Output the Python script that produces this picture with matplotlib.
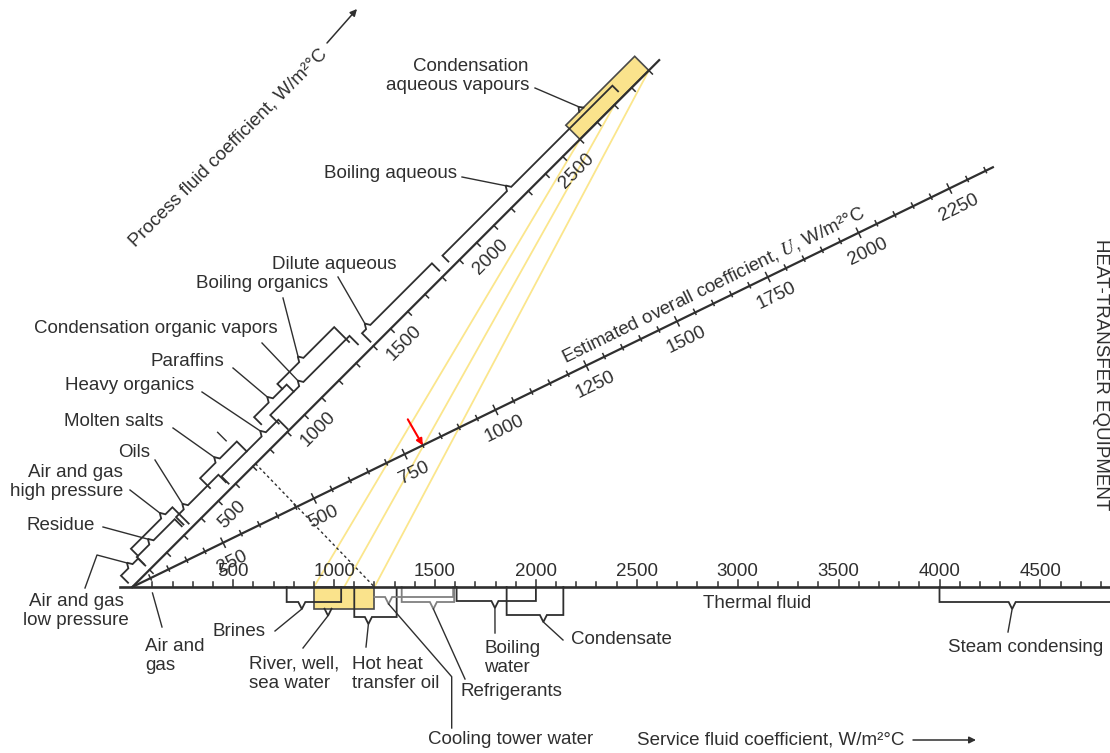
import numpy as np
import matplotlib
matplotlib.use("Agg")
import matplotlib.pyplot as plt
from matplotlib.transforms import Affine2D
from matplotlib.patches import Polygon

plt.rcParams['font.family'] = ['Liberation Sans', 'DejaVu Sans']
plt.rcParams['mathtext.fontset'] = 'stix'

# ---------------- scale values ----------------
service_ticks = np.arange(100, 4900, 100)
service_labels = [500, 1000, 1500, 2000, 2500, 3000, 3500, 4000, 4500]
process_ticks = np.arange(100, 3100, 100)
process_labels = [500, 1000, 1500, 2000, 2500]
u_ticks = np.arange(50, 2400, 50)
u_labels = [250, 500, 750, 1000, 1250, 1500, 1750, 2000, 2250]

# ---------------- process-side fluids (W/m2 C) ----------------
process_fluids = ["Air and gas\nlow pressure", "Residue", "Air and gas\nhigh pressure",
                  "Oils", "Molten salts", "Heavy organics", "Paraffins",
                  "Condensation organic vapors", "Boiling organics", "Dilute aqueous",
                  "Boiling aqueous", "Condensation\naqueous vapours"]
process_low = [0, 100, 107, 330, 513, 580, 847, 900, 1011, 1404, 1863, 2600]
process_high = [100, 320, 348, 576, 726, 910, 1036, 1360, 1341, 1810, 2850, 3000]
process_typical = [55, 185, 295, 387, 615, 825, 944, 1080, 1150, 1440, 2250, 2690]

# ---------------- service-side fluids (W/m2 C) ----------------
service_fluids = ["Brines", "River, well,\nsea water", "Hot heat\ntransfer oil",
                  "Cooling tower water", "Refrigerants", "Boiling\nwater",
                  "Condensate", "Steam condensing"]
service_low = [765, 900, 1100, 1200, 1335, 1607, 1855, 4000]
service_high = [1035, 1200, 1310, 1590, 1595, 2000, 2136, 4900]
service_typical = [840, 970, 1170, 1270, 1492, 1797, 2037, 4360]
air_gas_service = 100

# ---------------- worked examples ----------------
example_process = [2600, 2800, 3000]
example_service = [900, 1050, 1200]
dotted_process = 716
dotted_service = 1200
u_result = 800

# ---------------- geometry of the three scales ----------------
X0, Y0 = 132.3, 587.0
KS = 0.2018
KP, ANG_P = 0.2435, np.radians(45)
KU, ANG_U = 0.404, np.radians(26)
cp, sp = np.cos(ANG_P), np.sin(ANG_P)
cu, su = np.cos(ANG_U), np.sin(ANG_U)

fig = plt.figure(figsize=(11.1, 7.53), dpi=100)
ax = fig.add_axes([0, 0, 1, 1])
ax.set_xlim(0, 1110)
ax.set_ylim(753, 0)
ax.axis('off')

serv_aff = Affine2D(np.array([[KS, 0, X0], [0, 1, Y0], [0, 0, 1.0]]))
proc_aff = Affine2D(np.array([[KP * cp, -sp, X0], [-KP * sp, -cp, Y0], [0, 0, 1.0]]))
u_aff = Affine2D(np.array([[KU * cu, su, X0], [-KU * su, cu, Y0], [0, 0, 1.0]]))
serv_tr = serv_aff + ax.transData
proc_tr = proc_aff + ax.transData
u_tr = u_aff + ax.transData

INK = '#2f2f2f'
GREY = '#808080'
YELLOW_FILL = '#FAE38C'
YELLOW_LINE = '#FBE68C'
FS_LAB = 13.5
FS_NUM = 13.5
LW_BR = 1.3

# ---------------- highlighted ranges and construction lines ----------------
for p, s in zip(example_process, example_service):
    a = proc_aff.transform((p, 0))
    b = serv_aff.transform((s, 0))
    ax.plot([a[0], b[0]], [a[1], b[1]], color=YELLOW_LINE, lw=1.3, zorder=1)

a = proc_aff.transform((dotted_process, 0))
b = serv_aff.transform((dotted_service, 0))
ax.plot([a[0], b[0]], [a[1], b[1]], color=INK, lw=1.0, ls=(0, (2, 2)), zorder=2)

box_p = Polygon([(process_low[-1], 0), (process_high[-1], 0),
                 (process_high[-1], 20), (process_low[-1], 20)],
                closed=True, facecolor=YELLOW_FILL, edgecolor='#4a4a4a', lw=1.2,
                transform=proc_tr, zorder=2)
ax.add_patch(box_p)
box_s = Polygon([(service_low[1], 0), (service_high[1], 0),
                 (service_high[1], 21.7), (service_low[1], 21.7)],
                closed=True, facecolor=YELLOW_FILL, edgecolor='#4a4a4a', lw=1.2,
                transform=serv_tr, zorder=2)
ax.add_patch(box_s)

# ---------------- service scale ----------------
ax.plot([-60, 4900], [0, 0], color=INK, lw=1.9, transform=serv_tr, zorder=4)
for t in service_ticks:
    ln = 7 if t % 500 == 0 else 5
    ax.plot([t, t], [0, -ln], color=INK, lw=1.1, transform=serv_tr, zorder=4)
for t in service_labels:
    ax.text(t, -16, str(t), transform=serv_tr, ha='center', va='center',
            fontsize=FS_NUM, color=INK)

# ---------------- process scale ----------------
ax.plot([0, 3060], [0, 0], color=INK, lw=1.6, transform=proc_tr, zorder=4)
for t in process_ticks:
    ax.plot([t, t], [0, -5], color=INK, lw=1.1, transform=proc_tr, zorder=4)
for t in process_labels:
    ax.text(t, -20, str(t), transform=proc_tr, rotation=45, rotation_mode='anchor',
            ha='center', va='center', fontsize=FS_NUM, color=INK)

# ---------------- overall coefficient scale ----------------
ax.plot([0, 2370], [0, 0], color=INK, lw=1.6, transform=u_tr, zorder=4)
for t in u_ticks:
    if t % 250 == 0:
        ax.plot([t, t], [-5, 5], color=INK, lw=1.1, transform=u_tr, zorder=4)
    else:
        ax.plot([t, t], [-3.5, 2], color=INK, lw=1.1, transform=u_tr, zorder=4)
for t in u_labels:
    ax.text(t, 21, str(t), transform=u_tr, rotation=26, rotation_mode='anchor',
            ha='center', va='center', fontsize=FS_NUM, color=INK)

# ---------------- process-side brackets ----------------
p_offset = [16, 18, 28, 18.5, 29, 15, 34, 24, 41, 17, 15]
p_leg_lo = [6, 8, 18, 8, 15, 5, 24, 12, 34, 5, 6.6]
p_leg_hi = [6, 8, 5, 8, 15, 2, 24, 12, 20, 6.6, 7]
NW_P = 3.0 / KP   # notch half-width in scale units
for i in range(len(p_offset)):
    lo, hi, n, d = process_low[i], process_high[i], process_typical[i], p_offset[i]
    xs = [lo, lo, n - NW_P, n, n + NW_P, hi, hi]
    ys = [p_leg_lo[i], d, d, d + 5, d, d, p_leg_hi[i]]
    ax.plot(xs, ys, color=INK, lw=LW_BR, transform=proc_tr, zorder=3,
            solid_joinstyle='miter')
# notch on the highlighted process box
n = process_typical[-1]
ax.plot([n - NW_P, n, n + NW_P], [20, 24, 20], color=INK, lw=LW_BR,
        transform=proc_tr, zorder=3)
# small stray stroke above the molten-salts bracket
ax.plot([697, 697], [37, 49], color=INK, lw=1.0, transform=proc_tr, zorder=3)

p_tip_d = p_offset + [20]
p_text_xy = [(76, 611), (61, 525), (123, 482), (134, 452), (114, 421), (130, 385),
             (187.5, 361), (155.5, 328), (262.5, 283), (334.5, 264), (457, 173),
             (529, 76)]
p_text_ha = ['center', 'center', 'right', 'center', 'center', 'center', 'center',
             'center', 'center', 'center', 'right', 'right']
p_lead = [[(85, 588), (97, 555)], [(103, 527)], [(130, 490)], [(155, 460)],
          [(173, 428)], [(202, 392)], [(233, 368)], [(262, 343)], [(283, 298)],
          [(338, 277)], [(462, 177)], [(535, 88)]]
for i, name in enumerate(process_fluids):
    ax.text(*p_text_xy[i], name, ha=p_text_ha[i], va='center', multialignment=p_text_ha[i],
            fontsize=FS_LAB, color=INK, linespacing=1.15)
    tip = proc_aff.transform((process_typical[i], p_tip_d[i] + 4.5))
    pts = p_lead[i] + [tuple(tip)]
    ax.plot([q[0] for q in pts], [q[1] for q in pts], color=INK, lw=1.0, zorder=3)

# ---------------- service-side brackets ----------------
s_depth = [15, 21.7, 30, 10, 15, 14, 28, 15]
s_leg_lo = [0, None, 0, 10, 0, 0, 0, 0]
s_leg_hi = [0, None, 1, 0, 0, 0, 0, 15]
s_color = [INK, INK, INK, GREY, GREY, INK, INK, INK]
NW_S = 3.5 / KS
for i in range(len(service_fluids)):
    lo, hi, n, d = service_low[i], service_high[i], service_typical[i], s_depth[i]
    if s_leg_lo[i] is None:
        xs, ys = [n - NW_S, n, n + NW_S], [d, d + 7, d]
    else:
        xs = [lo, lo, n - NW_S, n, n + NW_S, hi, hi]
        ys = [s_leg_lo[i], d, d, d + 7, d, d, s_leg_hi[i]]
    ax.plot(xs, ys, color=s_color[i], lw=LW_BR, transform=serv_tr, zorder=3,
            solid_joinstyle='miter')

s_text_xy = [(239, 632), (249, 674), (352, 674), (511, 740), (511, 692),
             (484, 658), (621, 640), (1026, 648)]
s_text_ha = ['center', 'left', 'left', 'center', 'center', 'left', 'center', 'center']
s_lead = [[(275, 631)], [(303, 648)], [(366, 647)], [(451.7, 676.7), (451.7, 728)],
          [(465, 679)], [(495, 633)], [(563, 640)], [(1008, 632)]]
for i, name in enumerate(service_fluids):
    ax.text(*s_text_xy[i], name, ha=s_text_ha[i], va='center', multialignment='left',
            fontsize=FS_LAB, color=INK, linespacing=1.2)
    tip = serv_aff.transform((service_typical[i], s_depth[i] + 7))
    pts = [tuple(tip)] + s_lead[i]
    ax.plot([q[0] for q in pts], [q[1] for q in pts], color=INK, lw=1.0, zorder=3)

# air and gas (service side)
base = serv_aff.transform((air_gas_service, 6))
ax.plot([base[0], 162], [base[1], 627], color=INK, lw=1.0)
ax.text(145, 656, "Air and\ngas", ha='left', va='center', fontsize=FS_LAB,
        color=INK, linespacing=1.2)
ax.text(757, 604, "Thermal fluid", ha='center', va='center', fontsize=FS_LAB, color=INK)

# ---------------- result marker ----------------
tip = u_aff.transform((u_result, 0))
ax.annotate('', xy=tuple(tip), xytext=(tip[0] - 15, tip[1] - 26),
            arrowprops=dict(arrowstyle='-|>', color='red', lw=1.5, mutation_scale=9,
                            shrinkA=0, shrinkB=0), zorder=6)

# ---------------- scale titles ----------------
ax.text(228, 148, "Process fluid coefficient, W/m²°C", rotation=45, rotation_mode='anchor',
        ha='center', va='center', fontsize=FS_LAB, color=INK)
ax.annotate('', xy=(357, 9), xytext=(327, 43),
            arrowprops=dict(arrowstyle='-|>', color=INK, lw=1.1, mutation_scale=10,
                            shrinkA=0, shrinkB=0))
ax.text(1620, -17, "Estimated overall coefficient, $U$, W/m²°C", transform=u_tr,
        rotation=26, rotation_mode='anchor', ha='center', va='center',
        fontsize=FS_LAB, color=INK)
ax.text(637, 740, "Service fluid coefficient, W/m²°C", ha='left', va='center',
        fontsize=FS_LAB, color=INK)
ax.annotate('', xy=(976, 740), xytext=(913, 740),
            arrowprops=dict(arrowstyle='-|>', color=INK, lw=1.1, mutation_scale=10,
                            shrinkA=0, shrinkB=0))
ax.text(1101, 375, "HEAT-TRANSFER EQUIPMENT", rotation=-90, ha='center', va='center',
        fontsize=FS_LAB, color=INK)

fig.savefig("out.png", dpi=100)
